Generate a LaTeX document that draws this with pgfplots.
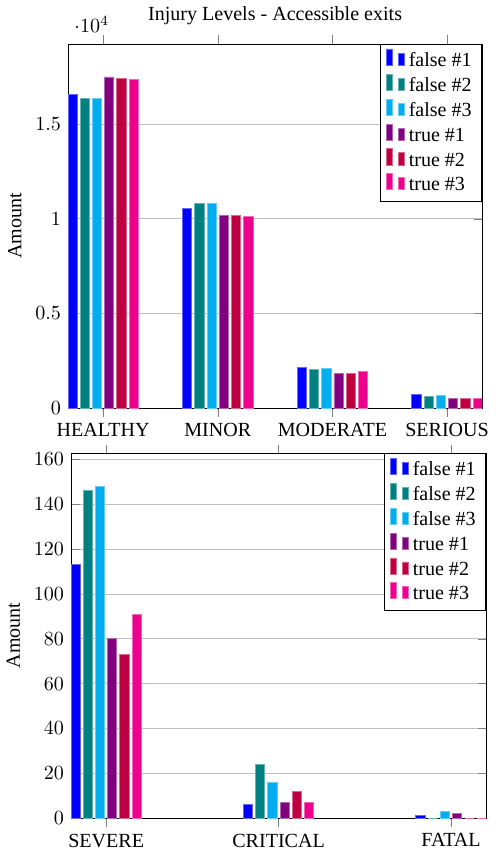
\documentclass[border=0pt]{standalone}
\usepackage{pgfplots}
\pgfplotsset{compat=1.18}
\usepackage{fontspec}
\setmainfont{Liberation Serif}

\definecolor{cA}{RGB}{0,0,255}
\definecolor{cB}{RGB}{0,128,128}
\definecolor{cC}{RGB}{0,174,239}
\definecolor{cD}{RGB}{128,0,128}
\definecolor{cE}{RGB}{191,0,64}
\definecolor{cF}{RGB}{236,0,140}

\pgfplotsset{
  injury/.style={
    scale only axis,
    ybar=1.5pt,
    bar width=4.6pt,
    ymin=0,
    ymajorgrids,
    xtick=data,
    ylabel={Amount},
    legend cell align=left,
    legend style={at={(1,1)},anchor=north east,draw=black},
  },
  s1/.style={fill=cA,draw=cA!60!white},
  s2/.style={fill=cB,draw=cB!60!white},
  s3/.style={fill=cC,draw=cC!60!white},
  s4/.style={fill=cD,draw=cD!60!white},
  s5/.style={fill=cE,draw=cE!60!white},
  s6/.style={fill=cF,draw=cF!60!white},
}

\begin{document}
\begin{tikzpicture}
% upper chart: the four common levels
\begin{axis}[injury,
  width=206.5pt, height=181.5pt,
  title={Injury Levels - Accessible exits},
  xmin=-0.306, xmax=3.306,
  ymax=19230,
  ytick={0,5000,10000,15000},
  xticklabels={HEALTHY,MINOR,MODERATE,SERIOUS},
]
\addplot[s1] coordinates {(0,16550) (1,10520) (2,2126) (3,700)};
\addplot[s2] coordinates {(0,16340) (1,10825) (2,2036) (3,624)};
\addplot[s3] coordinates {(0,16340) (1,10790) (2,2070) (3,645)};
\addplot[s4] coordinates {(0,17490) (1,10150) (2,1825) (3,502)};
\addplot[s5] coordinates {(0,17410) (1,10150) (2,1825) (3,518)};
\addplot[s6] coordinates {(0,17360) (1,10140) (2,1930) (3,500)};
\legend{false \#1,false \#2,false \#3,true \#1,true \#2,true \#3}
\end{axis}

% lower chart: the rare levels
\begin{axis}[injury,
  at={(1.5pt,-204.5pt)},
  width=207pt, height=182pt,
  xmin=-0.2035, xmax=2.2035,
  ymax=162.8,
  ytick={0,20,40,60,80,100,120,140,160},
  xticklabels={SEVERE,CRITICAL,FATAL},
]
\addplot[s1] coordinates {(0,113) (1,6) (2,1)};
\addplot[s2] coordinates {(0,146) (1,24) (2,0)};
\addplot[s3] coordinates {(0,148) (1,16) (2,3)};
\addplot[s4] coordinates {(0,80) (1,7) (2,2)};
\addplot[s5] coordinates {(0,73) (1,12) (2,0)};
\addplot[s6] coordinates {(0,91) (1,7) (2,0)};
\legend{false \#1,false \#2,false \#3,true \#1,true \#2,true \#3}
\end{axis}
\end{tikzpicture}
\end{document}
